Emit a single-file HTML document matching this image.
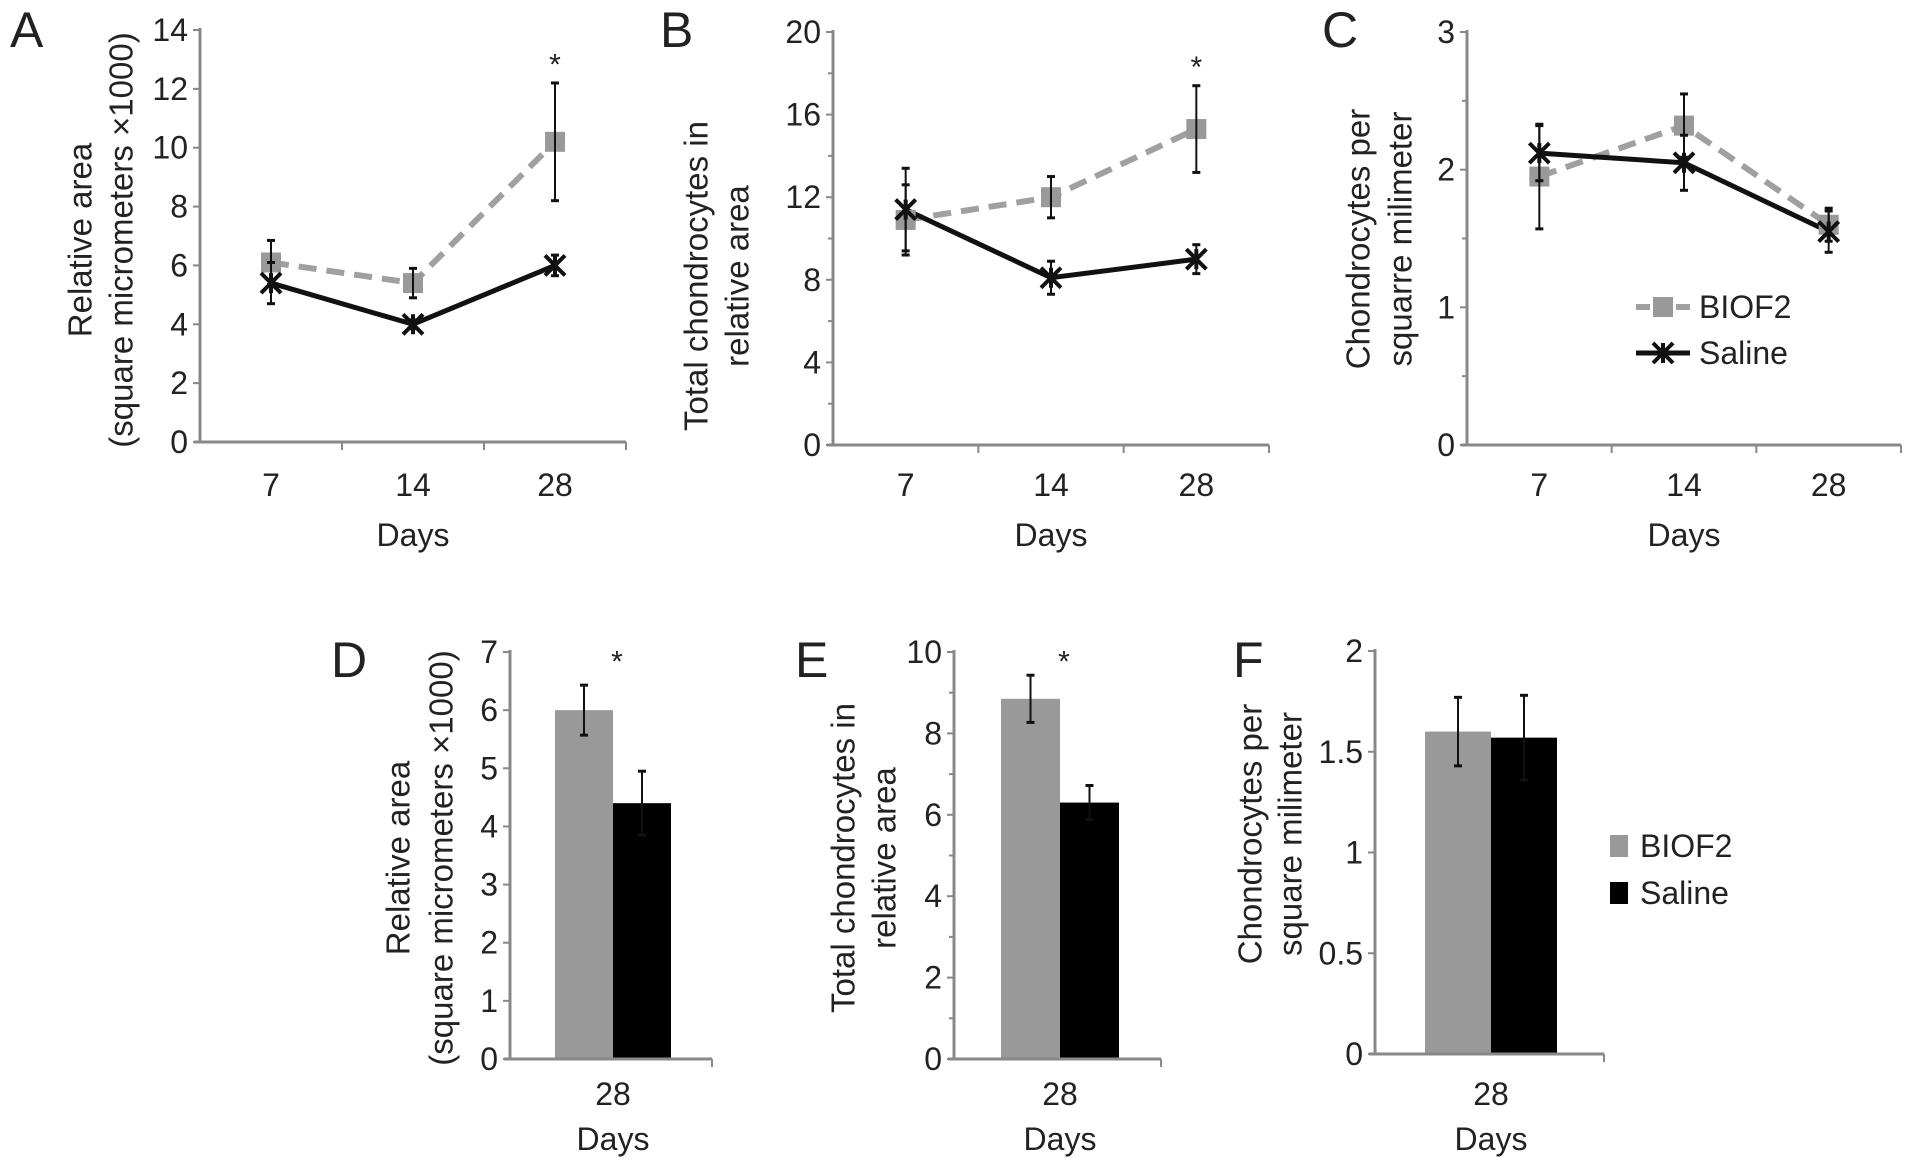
<!DOCTYPE html>
<html><head><meta charset="utf-8"><style>
html,body{margin:0;padding:0;background:#fff}
svg{display:block;font-family:"Liberation Sans",sans-serif}
</style></head><body>
<svg id="fig" width="1913" height="1165" viewBox="0 0 1913 1165"></svg>
<script>
const days = ["7","14","28"];
const aBiof = [6.1, 5.4, 10.2];
const aBiofErr = [0.75, 0.5, 2.0];
const aSal = [5.4, 4.0, 6.0];
const aSalErr = [0.7, 0.15, 0.35];
const aTicks = [0,2,4,6,8,10,12,14];
const bBiof = [10.9, 12.0, 15.3];
const bBiofErr = [1.7, 1.0, 2.1];
const bSal = [11.4, 8.1, 9.0];
const bSalErr = [2.0, 0.8, 0.7];
const bTicks = [0,4,8,12,16,20];
const cBiof = [1.95, 2.32, 1.6];
const cBiofErr = [0.38, 0.23, 0.12];
const cSal = [2.12, 2.05, 1.55];
const cSalErr = [0.2, 0.2, 0.15];
const cTicks = [0,1,2,3];
const barCat = ["28"];
const dVals = [6.0, 4.4];
const dErr = [0.43, 0.55];
const dTicks = [0,1,2,3,4,5,6,7];
const eVals = [8.85, 6.3];
const eErr = [0.58, 0.42];
const eTicks = [0,2,4,6,8,10];
const fVals = [1.6, 1.57];
const fErr = [0.17, 0.21];
const fTicks = [0,0.5,1,1.5,2];

const NS="http://www.w3.org/2000/svg";
const svg=document.getElementById('fig');
const FS=32, TS=33;
function mk(tag,attrs,parent){const e=document.createElementNS(NS,tag);for(const k in attrs)e.setAttribute(k,attrs[k]);(parent||svg).appendChild(e);return e;}
function txt(s,x,y,size,parent,extra){const t=mk('text',Object.assign({x:x,y:y,'font-size':size,fill:'#222','text-anchor':'middle','dominant-baseline':'central'},extra||{}),parent);t.textContent=s;return t;}

function axes(g,o,ticks,minor){
  const ys=v=>o.y0-(v-ticks[0])/(ticks[ticks.length-1]-ticks[0])*(o.y0-o.yt);
  mk('line',{x1:o.x0,y1:o.yt-2,x2:o.x0,y2:o.y0,stroke:'#888','stroke-width':3},g);
  mk('line',{x1:o.x0-6,y1:o.y0,x2:o.x1,y2:o.y0,stroke:'#888','stroke-width':3},g);
  ticks.forEach(v=>{const y=ys(v);
    mk('line',{x1:o.x0-7,y1:y,x2:o.x0,y2:y,stroke:'#888','stroke-width':2},g);
    const t=txt(String(v),o.x0-12,y,FS,g,{'text-anchor':'end'});
    
    
    if(minor&&v<ticks[ticks.length-1]){const ym=ys(v+(ticks[1]-ticks[0])/2);
      mk('line',{x1:o.x0-5,y1:ym,x2:o.x0,y2:ym,stroke:'#888','stroke-width':2},g);}
  });
  return ys;
}
function ylabel(g,lines,cx,cy){
  lines.forEach((l,i)=>{const x=cx[i];const t=txt(l,x,cy,TS,g,{transform:`rotate(-90 ${x} ${cy})`});
    
    });
}
function errbar(g,x,y1,y2){
  mk('line',{x1:x,y1:y1,x2:x,y2:y2,stroke:'#111','stroke-width':2},g);
  mk('line',{x1:x-4,y1:y1,x2:x+4,y2:y1,stroke:'#111','stroke-width':3},g);
  mk('line',{x1:x-4,y1:y2,x2:x+4,y2:y2,stroke:'#111','stroke-width':3},g);
}
function xmark(g,x,y){
  const s=10;
  mk('path',{d:`M${x-s} ${y-s}L${x+s} ${y+s}M${x-s} ${y+s}L${x+s} ${y-s}M${x} ${y-s}L${x} ${y+s}`,stroke:'#111','stroke-width':4,fill:'none'},g);
}
function sqmark(g,x,y){mk('rect',{x:x-10,y:y-10,width:20,height:20,fill:'#999'},g);}

function lineChart(name,o,ticks,minor,biof,biofErr,sal,salErr,star,letter,lx,titles,tcx,tcy){
  const g=mk('g',{});
  
  
  const ys=axes(g,o,ticks,minor);
  const bw=(o.x1-o.x0)/days.length;
  const xs=i=>o.x0+bw*(i+0.5);
  for(let i=1;i<days.length;i++)mk('line',{x1:o.x0+bw*i,y1:o.y0,x2:o.x0+bw*i,y2:o.y0+8,stroke:'#888','stroke-width':2},g);
  mk('line',{x1:o.x1,y1:o.y0,x2:o.x1,y2:o.y0+8,stroke:'#888','stroke-width':2},g);
  days.forEach((d,i)=>{const t=txt(d,xs(i),485,FS,g);});
  const dt=txt('Days',(o.x0+o.x1)/2,535,FS,g);
  
  
  const p1=mk('polyline',{points:biof.map((v,i)=>xs(i)+','+ys(v)).join(' '),fill:'none',stroke:'#a0a0a0','stroke-width':6,'stroke-dasharray':'18 10'},g);
  
  
  const p2=mk('polyline',{points:sal.map((v,i)=>xs(i)+','+ys(v)).join(' '),fill:'none',stroke:'#111','stroke-width':5},g);
  
  
  biof.forEach((v,i)=>{sqmark(g,xs(i),ys(v));errbar(g,xs(i),ys(v+biofErr[i]),ys(v-biofErr[i]));});
  sal.forEach((v,i)=>{xmark(g,xs(i),ys(v));errbar(g,xs(i),ys(v+salErr[i]),ys(v-salErr[i]));});
  if(star){const s=txt('*',xs(2),ys(biof[2]+biofErr[2])-18,30,g);}
  const L=txt(letter,lx,30,50,g,{'text-anchor':'start'});
  
  
  ylabel(g,titles,tcx,tcy);
  return g;
}

lineChart('panel-a-chart',{x0:200,x1:626,yt:30,y0:442},aTicks,false,aBiof,aBiofErr,aSal,aSalErr,true,'A',10,['Relative area','(square micrometers ×1000)'],[80,121],240);
lineChart('panel-b-chart',{x0:833,x1:1269,yt:32,y0:445},bTicks,true,bBiof,bBiofErr,bSal,bSalErr,true,'B',660,['Total chondrocytes in','relative area'],[696,737],276);
const gc=lineChart('panel-c-chart',{x0:1467,x1:1901,yt:32,y0:445},cTicks,true,cBiof,cBiofErr,cSal,cSalErr,false,'C',1322,['Chondrocytes per','squarre milimeter'],[1358,1400],239);
const lc=mk('g',{},gc);


mk('line',{x1:1636,y1:307,x2:1690,y2:307,stroke:'#a0a0a0','stroke-width':6,'stroke-dasharray':'14 6'},lc);
sqmark(lc,1663,307);
txt('BIOF2',1699,307,FS,lc,{'text-anchor':'start'});
mk('line',{x1:1636,y1:353,x2:1690,y2:353,stroke:'#111','stroke-width':5},lc);
xmark(lc,1663,353);
txt('Saline',1699,353,FS,lc,{'text-anchor':'start'});

function barChart(name,o,ticks,minor,vals,errs,star,letter,lx,titles,tcx,tcy){
  const g=mk('g',{});
  
  
  const ys=axes(g,o,ticks,minor);
  mk('line',{x1:o.x1,y1:o.y0,x2:o.x1,y2:o.y0+8,stroke:'#888','stroke-width':2},g);
  const cx=o.bx+o.bw;
  const fills=['#999','#000'];const names=['bar-biof2','bar-saline'];
  vals.forEach((v,i)=>{const x=o.bx+o.bw*i;
    const r=mk('rect',{x:x,y:ys(v),width:o.bw,height:o.y0-ys(v),fill:fills[i]},g);
    
    
    errbar(g,x+o.bw/2,ys(v+errs[i]),ys(v-errs[i]));});
  mk('line',{x1:o.x0-6,y1:o.y0,x2:o.x1,y2:o.y0,stroke:'#888','stroke-width':3},g);
  const t=txt(barCat[0],cx,1094,FS,g);
  const d=txt('Days',cx,1139,FS,g);
  if(star){const s=txt('*',cx+4,662,30,g);}
  const L=txt(letter,lx,660,50,g,{'text-anchor':'start'});
  
  
  ylabel(g,titles,tcx,tcy);
  return g;
}
barChart('panel-d-chart',{x0:510,x1:712,yt:652,y0:1059,bx:555,bw:58},dTicks,false,dVals,dErr,true,'D',331,['Relative area','(square micrometers ×1000)'],[398,441],858);
barChart('panel-e-chart',{x0:954,x1:1161,yt:652,y0:1059,bx:1001,bw:59},eTicks,true,eVals,eErr,true,'E',795,['Total chondrocytes in','relative area'],[843,884],858);
const gf=barChart('panel-f-chart',{x0:1375,x1:1604,yt:651,y0:1054,bx:1425,bw:66},fTicks,false,fVals,fErr,false,'F',1233,['Chondrocytes per','square milimeter'],[1250,1290],834);
const lf=mk('g',{},gf);


mk('rect',{x:1610,y:835,width:18,height:22,fill:'#999'},lf);
txt('BIOF2',1640,846,FS,lf,{'text-anchor':'start'});
mk('rect',{x:1610,y:882,width:18,height:22,fill:'#000'},lf);
txt('Saline',1640,893,FS,lf,{'text-anchor':'start'});
</script>
</body></html>
